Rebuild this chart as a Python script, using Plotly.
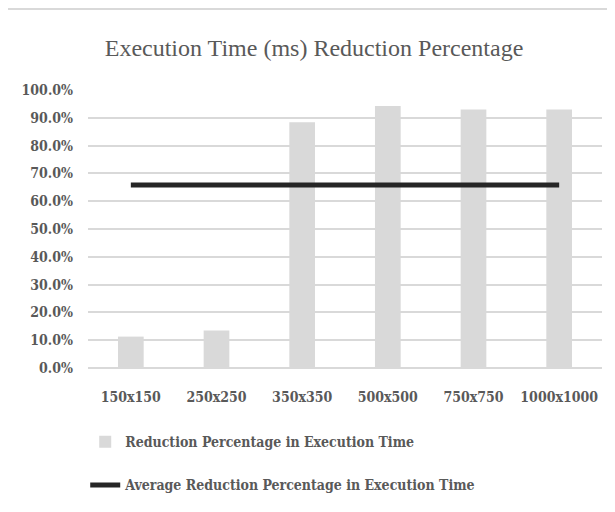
import plotly.graph_objects as go

categories = ["150x150", "250x250", "350x350", "500x500", "750x750", "1000x1000"]
reduction = [0.113, 0.135, 0.884, 0.942, 0.930, 0.930]
average = [0.658] * len(categories)
y_ticks = [i / 10 for i in range(11)]

fig = go.Figure()
fig.add_trace(go.Bar(
    x=categories, y=reduction, name="Reduction Percentage in Execution Time",
    marker=dict(color="#d9d9d9", line=dict(width=0)), width=0.3,
    legendgroup="a",
))
fig.add_trace(go.Scatter(
    x=categories, y=average, mode="lines",
    name="Average Reduction Percentage in Execution Time",
    line=dict(color="#262626", width=5), legendgroup="b",
))

tick_font = dict(family="DejaVu Serif Condensed", size=14, color="#595959", weight="bold")

fig.update_layout(
    width=615, height=512,
    margin=dict(l=80, r=21, t=82, b=152, autoexpand=False),
    paper_bgcolor="white", plot_bgcolor="white",
    title=dict(text="Execution Time (ms) Reduction Percentage",
               font=dict(family="Liberation Serif", size=24, color="#595959"),
               x=0.4976, xanchor="center", y=0.923, yanchor="middle"),
    xaxis=dict(tickfont=tick_font, showgrid=False, showline=False, ticks="",
               ticklabelstandoff=19, automargin=False),
    yaxis=dict(range=[0, 1.0], tickvals=y_ticks, tickformat=".1%",
               tickfont=tick_font, showgrid=True, gridcolor="#d9d9d9", gridwidth=1.5,
               zeroline=True, zerolinecolor="#d9d9d9", zerolinewidth=1.5,
               ticks="", ticklabelstandoff=14, automargin=False),
    showlegend=True,
    legend=dict(orientation="v", x=-0.0054, xanchor="left", y=-0.209, yanchor="top",
                font=dict(family="DejaVu Serif Condensed", size=14, color="#595959",
                          weight="bold"),
                tracegroupgap=22, itemwidth=30),
    shapes=[
        dict(type="line", xref="paper", yref="paper", x0=-0.1576, x1=1.05,
             y0=1.291, y1=1.291, line=dict(color="#d9d9d9", width=2), layer="below"),
        dict(type="line", xref="paper", yref="paper", x0=-0.1576, x1=-0.1576,
             y0=1.291, y1=-0.55, line=dict(color="#d9d9d9", width=2), layer="below"),
    ],
)

fig.write_html("out.html")
